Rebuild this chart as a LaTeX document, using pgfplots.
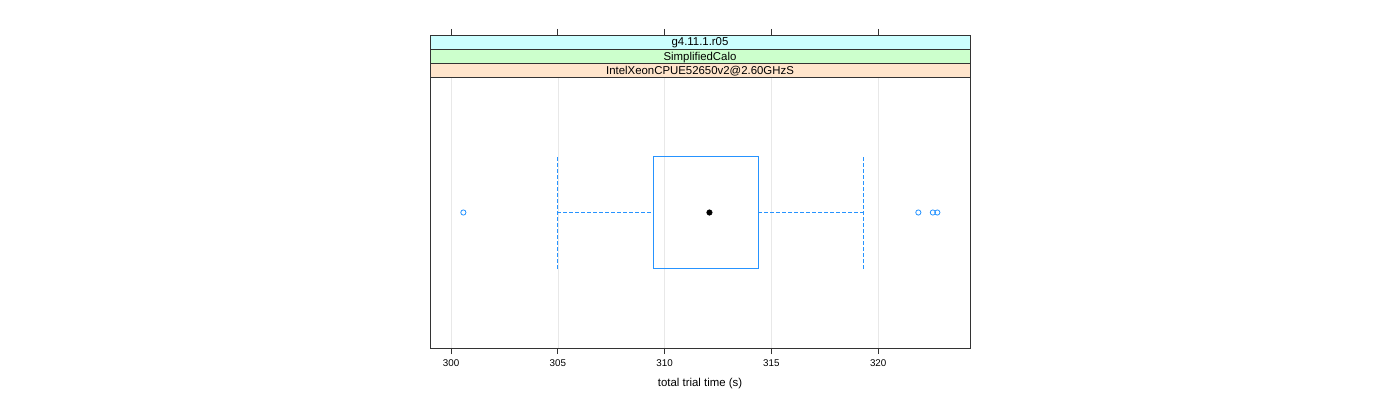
\documentclass[border=0pt]{standalone}
\usepackage{pgfplots}
\pgfplotsset{compat=1.18}
\usepackage{fontspec}
\setmainfont{Liberation Sans}
\definecolor{bwblue}{HTML}{0080FF}
\definecolor{stripcyan}{HTML}{CCFFFF}
\definecolor{stripgreen}{HTML}{CCFFCC}
\definecolor{strippeach}{HTML}{FFE5CC}
\begin{document}
\fontsize{11.4pt}{13pt}\selectfont
\begin{tikzpicture}
\path[use as bounding box] (0,0) rectangle (1400pt,400pt);
\begin{axis}[at={(430pt,52pt)}, anchor=south west, scale only axis,
  width=540pt, height=313pt,
  xmin=299.015, xmax=324.30, ymin=0, ymax=2.30996,
  xtick={300,305,310,315,320}, ytick=\empty,
  tick align=outside, xtick pos=both, xticklabel pos=lower,
  major tick length=6pt,
  xmajorgrids, grid style={black!9, line width=0.6pt},
  axis line style={black!80, line width=0.8pt},
  every tick/.style={black!80, line width=0.8pt},
  /pgf/number format/assume math mode=true,
  xticklabel style={font=\fontsize{9.8pt}{11pt}\selectfont, yshift=-1.5pt},
  xlabel={total trial time (s)},
  xlabel style={at={(axis description cs:0.5,-0.115)}, anchor=center},
  clip=false]
% box
\addplot[bwblue!85, line width=0.8pt] coordinates {(309.48,0.5867) (314.38,0.5867) (314.38,1.4133) (309.48,1.4133) (309.48,0.5867)};
% whiskers
\addplot[bwblue!85, line width=0.8pt, dash pattern=on 4pt off 2pt] coordinates {(304.98,1) (309.48,1)};
\addplot[bwblue!85, line width=0.8pt, dash pattern=on 4pt off 2pt] coordinates {(314.38,1) (319.33,1)};
\addplot[bwblue!85, line width=0.8pt, dash pattern=on 4pt off 2pt] coordinates {(304.98,0.5867) (304.98,1.4133)};
\addplot[bwblue!85, line width=0.8pt, dash pattern=on 4pt off 2pt] coordinates {(319.33,0.5867) (319.33,1.4133)};
% median
\addplot[only marks, mark=*, mark size=2.8pt, black] coordinates {(312.10,1)};
% outliers
\addplot[only marks, mark=o, mark size=2.6pt, bwblue!85, line width=0.8pt] coordinates {(300.577,1) (321.88,1) (322.56,1) (322.77,1)};
% strips
\filldraw[fill=strippeach, draw=black!80, line width=0.8pt] (axis cs:299.015,2) rectangle (axis cs:324.30,2.1033);
\filldraw[fill=stripgreen, draw=black!80, line width=0.8pt] (axis cs:299.015,2.1033) rectangle (axis cs:324.30,2.2066);
\filldraw[fill=stripcyan, draw=black!80, line width=0.8pt] (axis cs:299.015,2.2066) rectangle (axis cs:324.30,2.30996);
\node[yshift=-1.2pt] at (axis cs:311.6575,2.05165) {IntelXeonCPUE52650v2@2.60GHzS};
\node[yshift=-1.2pt] at (axis cs:311.6575,2.15495) {SimplifiedCalo};
\node[yshift=-1.2pt] at (axis cs:311.6575,2.25828) {g4.11.1.r05};
\end{axis}
\end{tikzpicture}
\end{document}
